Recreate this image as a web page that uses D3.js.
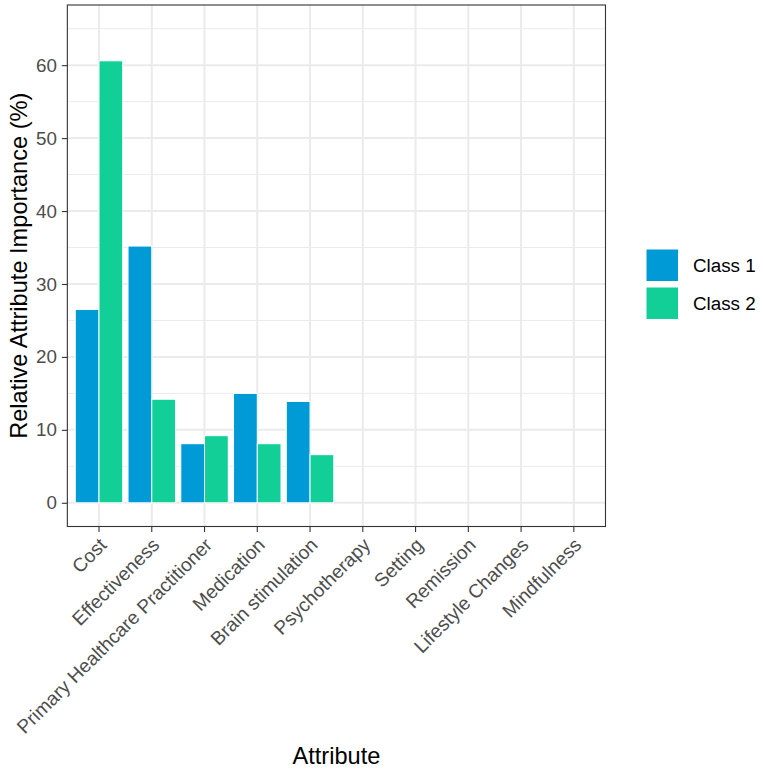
<!DOCTYPE html>
<html><head><meta charset="utf-8">
<script src="https://cdn.jsdelivr.net/npm/d3@7"></script>
<style>body{margin:0;background:#fff}svg{display:block}text{font-family:"Liberation Sans",Arial,sans-serif}</style>
</head><body>
<svg id="chart" width="763" height="771"></svg>
<script>
const categories = ["Cost","Effectiveness","Primary Healthcare Practitioner","Medication","Brain stimulation","Psychotherapy","Setting","Remission","Lifestyle Changes","Mindfulness"];
const classes = ["Class 1","Class 2"];
const class1 = [26.5, 35.2, 8.1, 15.0, 13.9, 0, 0, 0, 0, 0];
const class2 = [60.6, 14.2, 9.2, 8.1, 6.6, 0, 0, 0, 0, 0];
const yTicks = [0, 10, 20, 30, 40, 50, 60];
const yMinor = [5, 15, 25, 35, 45, 55, 65];
const colors = ["#009BD7", "#12CF98"];

const svg = d3.select("#chart");
const P = {left: 67.35, right: 605.5, top: 5, bottom: 526.5};

const x0 = d3.scaleBand().domain(categories).range([P.left, P.right]).paddingInner(0).paddingOuter(0.1);
const bw = x0.bandwidth();
const x1 = d3.scaleBand().domain(classes).range([0.05*bw, 0.95*bw]).padding(0);
const y = d3.scaleLinear().domain([-3.25, 68.25]).range([P.bottom, P.top]);

const g = svg.append("g");
// grid
g.selectAll(".ymin").data(yMinor).join("line")
  .attr("x1", P.left).attr("x2", P.right).attr("y1", d=>y(d)).attr("y2", d=>y(d))
  .attr("stroke", "#EBEBEB").attr("stroke-width", 1);
g.selectAll(".ymaj").data(yTicks).join("line")
  .attr("x1", P.left).attr("x2", P.right).attr("y1", d=>y(d)).attr("y2", d=>y(d))
  .attr("stroke", "#EBEBEB").attr("stroke-width", 2);
g.selectAll(".xmaj").data(categories).join("line")
  .attr("x1", d=>x0(d)+bw/2).attr("x2", d=>x0(d)+bw/2).attr("y1", P.top).attr("y2", P.bottom)
  .attr("stroke", "#EBEBEB").attr("stroke-width", 2);

// bars
const rows = categories.map((c,i)=>({cat:c, vals:[class1[i], class2[i]]}));
const grp = g.selectAll(".grp").data(rows).join("g").attr("transform", d=>`translate(${x0(d.cat)},0)`);
grp.selectAll("rect").data(d=>d.vals.map((v,k)=>({k, v}))).join("rect")
  .attr("x", d=>x1(classes[d.k])).attr("width", x1.bandwidth())
  .attr("y", d=>y(Math.max(0,d.v))).attr("height", d=>Math.abs(y(0)-y(d.v)))
  .attr("fill", d=>colors[d.k]).attr("stroke", "#fff").attr("stroke-width", 1);

// border
svg.append("rect").attr("x", P.left).attr("y", P.top).attr("width", P.right-P.left).attr("height", P.bottom-P.top)
  .attr("fill", "none").attr("stroke", "#333333").attr("stroke-width", 1.1);

// y axis
const yAxis = d3.axisLeft(y).tickValues(yTicks).tickSize(5.5).tickPadding(5);
const ya = svg.append("g").attr("transform", `translate(${P.left},0)`).call(yAxis);
ya.select(".domain").remove();
ya.selectAll(".tick line").attr("stroke", "#333333").attr("stroke-width", 1.1);
ya.selectAll(".tick text").attr("fill", "#4D4D4D").attr("font-size", 18.8).attr("font-family", "Liberation Sans, Arial, sans-serif");

// x axis
const xAxis = d3.axisBottom(x0).tickSize(5.5).tickPadding(5);
const xa = svg.append("g").attr("transform", `translate(0,${P.bottom})`).call(xAxis);
xa.select(".domain").remove();
xa.selectAll(".tick line").attr("stroke", "#333333").attr("stroke-width", 1.1);
xa.selectAll(".tick text").attr("fill", "#4D4D4D").attr("font-size", 19.2)
  .attr("font-family", "Liberation Sans, Arial, sans-serif")
  .attr("text-anchor", "end").attr("x", 0).attr("y", 0).attr("dy", "0.72em")
  .attr("transform", "translate(-1,10) rotate(-45)");

// titles
svg.append("text").attr("x", (P.left+P.right)/2).attr("y", 764).attr("text-anchor", "middle")
  .attr("font-size", 23.6).attr("fill", "#000").text("Attribute");
svg.append("text").attr("transform", `translate(27,${(P.top+P.bottom)/2}) rotate(-90)`).attr("text-anchor", "middle")
  .attr("font-size", 23.6).attr("fill", "#000").text("Relative Attribute Importance (%)");

// legend
const lg = svg.append("g").attr("transform", "translate(646,249)");
const items = lg.selectAll("g").data(classes).join("g").attr("transform", (d,i)=>`translate(0,${i*38})`);
items.append("rect").attr("width", 32.5).attr("height", 32.5).attr("fill", (d,i)=>colors[i]).attr("stroke", "#fff").attr("stroke-width", 1);
items.append("text").attr("x", 47).attr("y", 16.25).attr("dy", "0.36em").attr("font-size", 18.8).attr("fill", "#000").text(d=>d);
</script>
</body></html>
